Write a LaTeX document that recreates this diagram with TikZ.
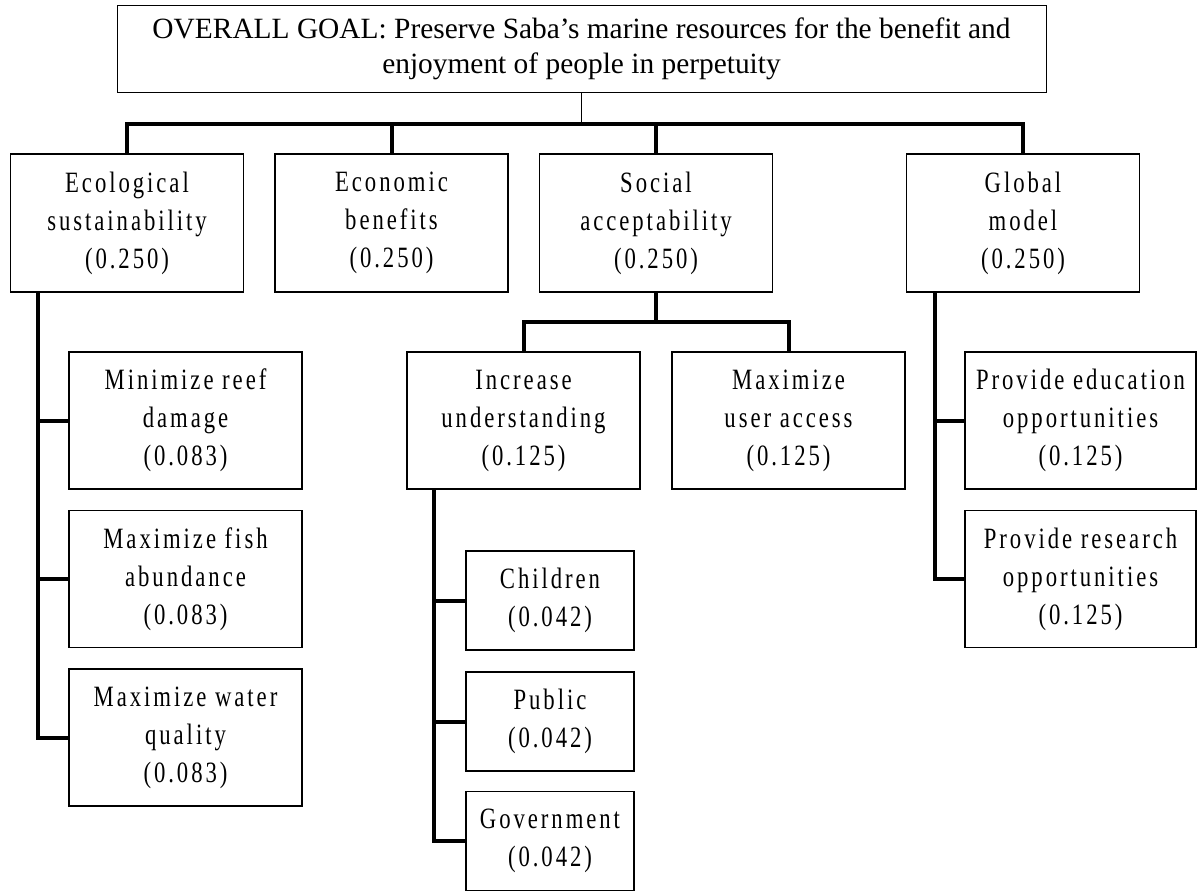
\documentclass[tikz,border=0pt]{standalone}
\usepackage{fontspec}
\setmainfont{Liberation Serif}
\newfontfamily\boxfont[LetterSpace=10,FakeStretch=0.77]{Liberation Serif}
\begin{document}
\begin{tikzpicture}[x=1pt,y=-1pt,
  goalbox/.style={draw,line width=1pt,minimum width=929pt,minimum height=86pt,inner sep=0pt,align=center,font={\fontsize{29.4}{35}\selectfont}},
  critbox/.style={draw,line width=1.8pt,minimum width=233pt,minimum height=138pt,inner sep=0pt,align=center,font={\boxfont\fontsize{29.5}{38}\selectfont}},
  subbox/.style={critbox,minimum height=137pt},
  leafbox/.style={critbox,minimum width=168pt,minimum height=99pt},
  conn/.style={line width=4pt},
  thinconn/.style={line width=1pt}]
\useasboundingbox (0,0) rectangle (1198,891);
% goal and criteria
\node[goalbox] (goal) at (581.5,49) {OVERALL GOAL: Preserve Saba’s marine resources for the benefit and\\enjoyment of people in perpetuity};
\node[critbox] (eco) at (127,223) {Ecological\\sustainability\\(0.250)};
\node[critbox] (econ) at (391.5,223) {Economic\\benefits\\(0.250)};
\node[critbox] (soc) at (656,223) {Social\\acceptability\\(0.250)};
\node[critbox] (glob) at (1023,223) {Global\\model\\(0.250)};
% sub-criteria
\node[subbox] (reef) at (185.5,420.5) {Minimize reef\\damage\\(0.083)};
\node[subbox] (fish) at (185.5,579) {Maximize fish\\abundance\\(0.083)};
\node[subbox] (water) at (185.5,737.5) {Maximize water\\quality\\(0.083)};
\node[subbox] (incr) at (523.5,420.5) {Increase\\understanding\\(0.125)};
\node[subbox] (user) at (788.5,420.5) {Maximize\\user access\\(0.125)};
\node[subbox,minimum width=231pt] (edu) at (1080.5,420.5) {Provide education\\opportunities\\(0.125)};
\node[subbox,minimum width=231pt] (res) at (1080.5,579) {Provide research\\opportunities\\(0.125)};
\node[leafbox] (child) at (550,600.5) {Children\\(0.042)};
\node[leafbox] (public) at (550,721.5) {Public\\(0.042)};
\node[leafbox] (govt) at (550,841) {Government\\(0.042)};
% connectors
\coordinate (bus) at (0,124);
\coordinate (sbus) at (0,322);
\draw[thinconn] (goal.south) -- (goal.south |- bus);
\draw[conn] (eco.north) -- (eco.north |- bus) -- (glob.north |- bus) -- (glob.north);
\draw[conn] (econ.north) -- (econ.north |- bus);
\draw[conn] (soc.north) -- (soc.north |- bus);
\coordinate (ecotrunk) at ([xshift=28pt]eco.south west);
\draw[conn] (ecotrunk) |- (water.west);
\draw[conn] (ecotrunk |- reef.west) -- (reef.west);
\draw[conn] (ecotrunk |- fish.west) -- (fish.west);
\draw[conn] (soc.south) -- (soc.south |- sbus);
\draw[conn] (incr.north) -- (incr.north |- sbus) -- (user.north |- sbus) -- (user.north);
\coordinate (incrtrunk) at ([xshift=28pt]incr.south west);
\draw[conn] (incrtrunk) |- (govt.west);
\draw[conn] (incrtrunk |- child.west) -- (child.west);
\draw[conn] (incrtrunk |- public.west) -- (public.west);
\coordinate (globtrunk) at ([xshift=29pt]glob.south west);
\draw[conn] (globtrunk) |- (res.west);
\draw[conn] (globtrunk |- edu.west) -- (edu.west);
\end{tikzpicture}
\end{document}
